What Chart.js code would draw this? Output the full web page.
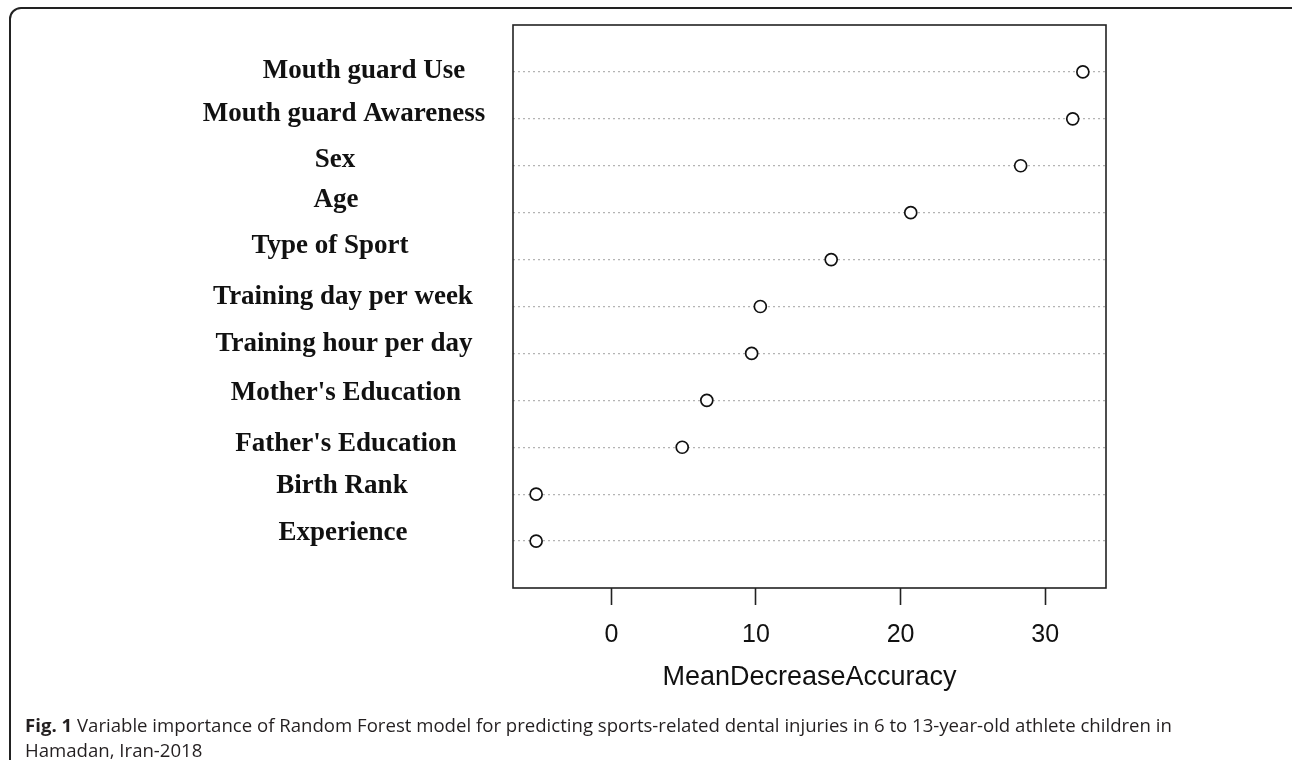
<!DOCTYPE html>
<html>
<head>
<meta charset="utf-8">
<script src="https://cdn.jsdelivr.net/npm/chart.js@4.4.0/dist/chart.umd.min.js"></script>
<style>
  html, body { margin: 0; padding: 0; background: #fff; }
  #page { position: relative; width: 1292px; height: 760px; overflow: hidden; }
  #frame {
    position: absolute; left: 9px; top: 7px; width: 1300px; height: 790px;
    box-sizing: border-box; border: 2px solid #222; border-radius: 12px;
  }
  #wrap { position: absolute; left: 0; top: 0; width: 1292px; height: 760px; }
  #caption {
    position: absolute; left: 25px; top: 712px; width: 1250px;
    font-family: "Open Sans", sans-serif; font-size: 18.6px; line-height: 25px; color: #231f20;
  }
  #caption b { font-weight: 700; }
</style>
</head>
<body>
<div id="page">
  <div id="frame"></div>
  <div id="wrap"><canvas id="importanceChart"></canvas></div>
  <div id="caption"><b>Fig. 1</b> Variable importance of Random Forest model for predicting sports-related dental injuries in 6 to 13-year-old athlete children in<br>Hamadan, Iran-2018</div>
</div>
<script>
// variables, top of the dotchart first
const variables = [
    'Mouth guard Use',
    'Mouth guard Awareness',
    'Sex',
    'Age',
    'Type of Sport',
    'Training day per week',
    'Training hour per day',
    "Mother's Education",
    "Father's Education",
    'Birth Rank',
    'Experience'
];
const meanDecreaseAccuracy = [32.6, 31.9, 28.3, 20.7, 15.2, 10.3, 9.7, 6.6, 4.9, -5.2, -5.2];
const xTicks = [0, 10, 20, 30];

// hand placement of the row labels (they are not perfectly aligned in the figure)
const labelCenterX = [364, 344, 335, 336, 330, 343, 344, 346, 346, 342, 343];
const labelShiftY = [-3, -7, -8, -15, -16, -12, -11, -9, -5, -10, -10];

document.addEventListener('DOMContentLoaded', () => {
    const n = variables.length;
    const points = meanDecreaseAccuracy.map((v, i) => ({ x: v, y: n - i }));

    const boxAndLabels = {
        id: 'boxAndLabels',
        afterDraw(chart) {
            const { ctx, chartArea } = chart;
            const yScale = chart.scales.y;
            ctx.save();
            ctx.strokeStyle = '#222';
            ctx.lineWidth = 1.6;
            ctx.strokeRect(chartArea.left, chartArea.top, chartArea.right - chartArea.left, chartArea.bottom - chartArea.top);

            ctx.fillStyle = '#111';
            ctx.font = 'bold 27px "Liberation Serif", "Times New Roman", serif';
            ctx.textAlign = 'center';
            ctx.textBaseline = 'alphabetic';
            variables.forEach((name, i) => {
                const y = yScale.getPixelForValue(n - i) + labelShiftY[i] + 9;
                ctx.fillText(name, labelCenterX[i], y);
            });
            ctx.restore();
        }
    };

    new Chart(document.getElementById('importanceChart'), {
        type: 'scatter',
        data: {
            datasets: [{
                label: 'MeanDecreaseAccuracy',
                data: points,
                pointStyle: 'circle',
                pointRadius: 6,
                pointBorderWidth: 1.7,
                pointBorderColor: '#111',
                pointBackgroundColor: '#fff'
            }]
        },
        options: {
            responsive: true,
            maintainAspectRatio: false,
            animation: false,
            layout: {
                padding: { left: 513, top: 25, right: 186, bottom: 62 }
            },
            plugins: {
                legend: { display: false },
                tooltip: { enabled: false }
            },
            scales: {
                x: {
                    type: 'linear',
                    min: -6.8,
                    max: 34.2,
                    afterBuildTicks: (scale) => {
                        scale.ticks = xTicks.map(v => ({ value: v }));
                    },
                    afterFit: (scale) => { scale.height = 110; },
                    grid: {
                        drawOnChartArea: false,
                        drawTicks: true,
                        tickLength: 17,
                        tickColor: '#222',
                        tickWidth: 1.6
                    },
                    border: { display: false },
                    ticks: {
                        padding: 15,
                        color: '#111',
                        font: { family: '"Liberation Sans", Arial, sans-serif', size: 25 }
                    },
                    title: {
                        display: true,
                        text: 'MeanDecreaseAccuracy',
                        color: '#111',
                        font: { family: '"Liberation Sans", Arial, sans-serif', size: 27 },
                        padding: { top: 0, bottom: 4 }
                    }
                },
                y: {
                    type: 'linear',
                    min: 0,
                    max: n + 1,
                    afterBuildTicks: (scale) => {
                        scale.ticks = variables.map((_, i) => ({ value: n - i }));
                    },
                    afterFit: (scale) => { scale.width = 0; },
                    ticks: { display: false },
                    border: { display: false, dash: [2, 3] },
                    grid: {
                        drawTicks: false,
                        color: '#b4b4b4',
                        lineWidth: 1.2
                    }
                }
            }
        },
        plugins: [boxAndLabels]
    });
});
</script>
</body>
</html>
